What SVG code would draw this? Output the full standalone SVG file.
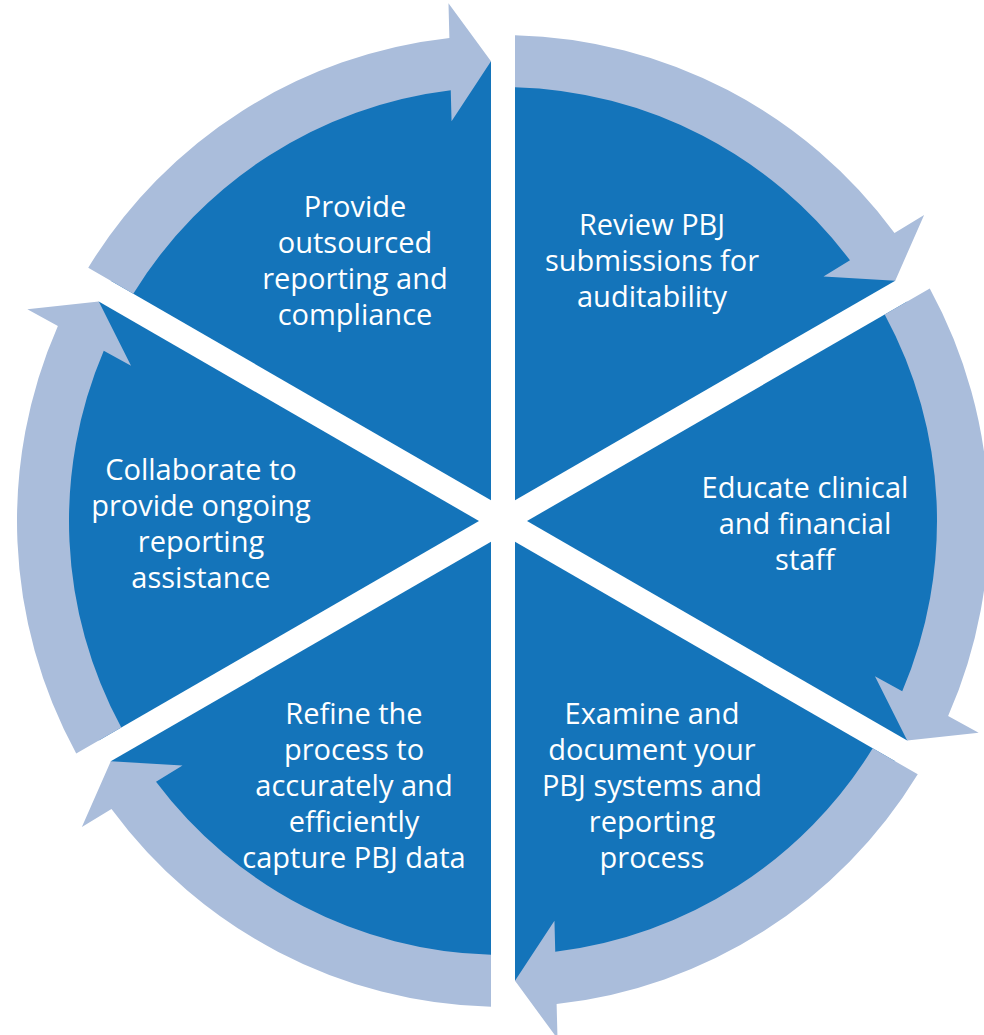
<svg xmlns="http://www.w3.org/2000/svg" width="984" height="1035" viewBox="0 0 984 1035">
  <defs>
    <style>
      .seg { fill: #1474BA; }
      .arr { fill: #AABDDB; }
      .lbl { font-family: "Open Sans", "Liberation Sans", sans-serif; font-size: 29px; fill: #FFFFFF; text-anchor: middle; }
    </style>
    <path id="segShape" d="M 515,500.21 L 515,61.16 A 460 460 0 0 1 895.23,280.69 Z"/>
    <path id="arrShape" d="M 515,35.15 A 486 486 0 0 1 894.51,233.05 L 924.12,214.91 L 895.23,280.69 L 823.50,276.55 L 849.99,260.33 A 434 434 0 0 0 515,87.17 Z"/>
  </defs>
  <rect width="984" height="1035" fill="#FFFFFF"/>

  <g id="node-review">
    <use href="#segShape" class="seg"/>
    <text class="lbl"><tspan x="652" y="235">Review PBJ</tspan><tspan x="652" y="271">submissions for</tspan><tspan x="652" y="307">auditability</tspan></text>
  </g>
  <g id="node-educate">
    <use href="#segShape" class="seg" transform="rotate(60 503 521)"/>
    <text class="lbl"><tspan x="805" y="498">Educate clinical</tspan><tspan x="805" y="534">and financial</tspan><tspan x="805" y="570">staff</tspan></text>
  </g>
  <g id="node-examine">
    <use href="#segShape" class="seg" transform="rotate(120 503 521)"/>
    <text class="lbl"><tspan x="652" y="724">Examine and</tspan><tspan x="652" y="760">document your</tspan><tspan x="652" y="796">PBJ systems and</tspan><tspan x="652" y="832">reporting</tspan><tspan x="652" y="868">process</tspan></text>
  </g>
  <g id="node-refine">
    <use href="#segShape" class="seg" transform="rotate(180 503 521)"/>
    <text class="lbl"><tspan x="354" y="724">Refine the</tspan><tspan x="354" y="760">process to</tspan><tspan x="354" y="796">accurately and</tspan><tspan x="354" y="832">efficiently</tspan><tspan x="354" y="868">capture PBJ data</tspan></text>
  </g>
  <g id="node-collaborate">
    <use href="#segShape" class="seg" transform="rotate(240 503 521)"/>
    <text class="lbl"><tspan x="201" y="480">Collaborate to</tspan><tspan x="201" y="516">provide ongoing</tspan><tspan x="201" y="552">reporting</tspan><tspan x="201" y="588">assistance</tspan></text>
  </g>
  <g id="node-provide">
    <use href="#segShape" class="seg" transform="rotate(300 503 521)"/>
    <text class="lbl"><tspan x="355" y="217">Provide</tspan><tspan x="355" y="253">outsourced</tspan><tspan x="355" y="289">reporting and</tspan><tspan x="355" y="325">compliance</tspan></text>
  </g>

  <g id="connectors">
    <use href="#arrShape" class="arr"/>
    <use href="#arrShape" class="arr" transform="rotate(60 503 521)"/>
    <use href="#arrShape" class="arr" transform="rotate(120 503 521)"/>
    <use href="#arrShape" class="arr" transform="rotate(180 503 521)"/>
    <use href="#arrShape" class="arr" transform="rotate(240 503 521)"/>
    <use href="#arrShape" class="arr" transform="rotate(300 503 521)"/>
  </g>
</svg>
